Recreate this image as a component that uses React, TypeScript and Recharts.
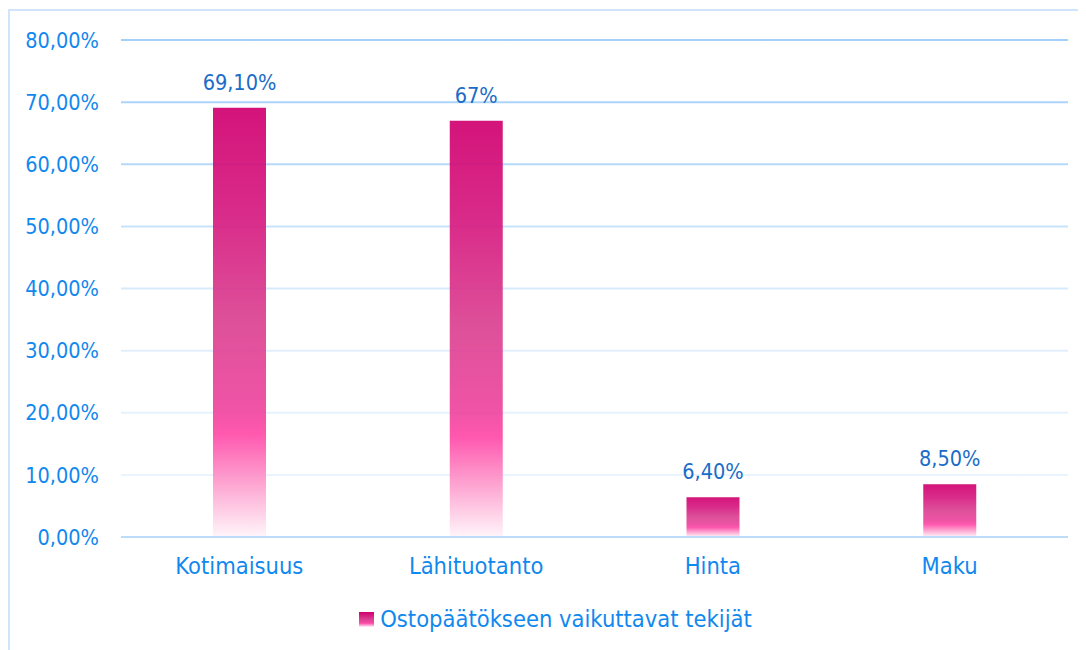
import React from "react";
import {
  BarChart,
  Bar,
  XAxis,
  YAxis,
  CartesianGrid,
  Legend,
  LabelList,
} from "recharts";

const categories = ["Kotimaisuus", "Lähituotanto", "Hinta", "Maku"];
const shares = [69.1, 67, 6.4, 8.5];
const shareLabels = ["69,10%", "67%", "6,40%", "8,50%"];
const yTicks = [0, 10, 20, 30, 40, 50, 60, 70, 80];
const seriesName = "Ostopäätökseen vaikuttavat tekijät";

const FONT = "'DejaVu Sans Condensed', 'DejaVu Sans', sans-serif";
const TICK_BLUE = "#1188ee";
const LABEL_BLUE = "#1a6cc8";

const chartData = categories.map((name, i) => ({
  name,
  value: shares[i],
  label: shareLabels[i],
}));

function LegendBox() {
  return (
    <div
      style={{
        height: 44,
        display: "flex",
        alignItems: "center",
        justifyContent: "center",
        fontFamily: FONT,
        fontSize: 23.5,
        color: TICK_BLUE,
        marginLeft: 35,
      }}
    >
      <span
        style={{
          width: 15,
          height: 15,
          marginRight: 6,
          background:
            "linear-gradient(#d0006f 0%, #db4291 50%, #ff4aa8 75%, #fff4f9 100%)",
        }}
      />
      <span>{seriesName}</span>
    </div>
  );
}

export default function App() {
  return (
    <div style={{ position: "relative", width: 1078, height: 642 }}>
      <div
        style={{
          position: "absolute",
          left: 0,
          top: 1,
          width: 1080,
          height: 642,
          borderTop: "2px solid #cfe5fb",
          borderLeft: "2px solid #cfe5fb",
          boxSizing: "border-box",
        }}
      />
      <BarChart
        width={1078}
        height={642}
        data={chartData}
        margin={{ top: 32, right: 18, bottom: 9, left: 0 }}
        style={{ position: "absolute", left: 0, top: 0 }}
      >
        <defs>
          <linearGradient id="barFill" x1="0" y1="0" x2="0" y2="1">
            <stop offset="0%" stopColor="#d0006f" />
            <stop offset="25%" stopColor="#d61a80" />
            <stop offset="50%" stopColor="#db4291" />
            <stop offset="70%" stopColor="#ee459e" />
            <stop offset="76%" stopColor="#ff4aa8" />
            <stop offset="86%" stopColor="#fd92c8" />
            <stop offset="100%" stopColor="#fff4f9" />
          </linearGradient>
          <linearGradient
            id="gridStroke"
            gradientUnits="userSpaceOnUse"
            x1="0"
            y1="32"
            x2="0"
            y2="529"
          >
            <stop offset="0%" stopColor="#a3d0f8" />
            <stop offset="25%" stopColor="#b5d9fa" />
            <stop offset="45%" stopColor="#d2e8fc" />
            <stop offset="65%" stopColor="#e3f0fd" />
            <stop offset="100%" stopColor="#eef6fe" />
          </linearGradient>
        </defs>
        <CartesianGrid
          vertical={false}
          stroke="url(#gridStroke)"
          strokeWidth={2}
        />
        <XAxis
          dataKey="name"
          height={60}
          tickLine={false}
          tickMargin={14}
          axisLine={{ stroke: "#bddcfa", strokeWidth: 2 }}
          tick={{ fill: TICK_BLUE, fontSize: 23.5, fontFamily: FONT }}
        />
        <YAxis
          width={113}
          domain={[0, 80]}
          ticks={yTicks}
          interval={0}
          axisLine={false}
          tickLine={false}
          tickMargin={16}
          tickFormatter={(v: number) => v.toFixed(2).replace(".", ",") + "%"}
          tick={{ fill: TICK_BLUE, fontSize: 21.5, fontFamily: FONT }}
        />
        <Legend verticalAlign="bottom" content={() => <LegendBox />} />
        <Bar
          dataKey="value"
          name={seriesName}
          fill="url(#barFill)"
          fillOpacity={0.92}
          barSize={53}
          isAnimationActive={false}
        >
          <LabelList
            dataKey="label"
            position="top"
            offset={18}
            fill={LABEL_BLUE}
            fontSize={21.5}
            fontFamily={FONT}
          />
        </Bar>
      </BarChart>
    </div>
  );
}
